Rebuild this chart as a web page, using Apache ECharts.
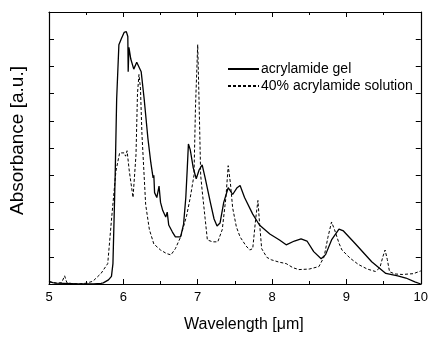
<!DOCTYPE html>
<html>
<head>
<meta charset="utf-8">
<script src="https://cdn.jsdelivr.net/npm/echarts@6/dist/echarts.min.js"></script>
<style>
html,body{margin:0;padding:0;background:#fff;}
#chart{width:431px;height:338px;}
</style>
</head>
<body>
<div id="chart"></div>
<script>
// Wavelength ticks
var xTicks = [5, 6, 7, 8, 9, 10];
var seriesNames = ['acrylamide gel', '40% acrylamide solution'];

// acrylamide gel (solid)
var gelX = [5.00,5.05,5.10,5.20,5.40,5.60,5.70,5.73,5.80,5.84,5.86,5.88,5.89,5.91,5.94,5.97,6.01,6.04,6.06,6.065,6.075,6.10,6.14,6.18,6.20,6.24,6.28,6.33,6.37,6.40,6.41,6.42,6.45,6.48,6.50,6.53,6.57,6.59,6.61,6.63,6.66,6.70,6.77,6.81,6.84,6.86,6.875,6.90,6.94,6.98,7.02,7.06,7.10,7.17,7.22,7.26,7.30,7.35,7.41,7.47,7.53,7.57,7.63,7.74,7.83,7.97,8.10,8.19,8.30,8.39,8.47,8.56,8.66,8.72,8.80,8.90,8.96,9.12,9.34,9.53,9.69,9.80,9.92,10.00];
var gelY = [0.10,0.05,0.03,0.02,0.00,0.00,0.02,0.04,0.15,0.28,0.75,2.90,4.00,6.80,8.80,9.00,9.25,9.28,9.10,7.80,8.70,8.27,7.90,8.15,8.15,7.80,6.80,5.36,4.45,3.90,4.00,3.36,3.18,3.60,3.00,2.70,2.46,2.64,2.17,2.24,1.91,1.73,1.73,2.20,3.18,4.27,5.15,4.93,4.27,3.87,4.20,4.38,3.90,3.00,2.39,2.13,2.24,3.00,3.54,3.29,3.54,3.62,3.18,2.57,2.17,1.84,1.62,1.44,1.58,1.66,1.58,1.19,0.93,1.08,1.62,2.02,1.95,1.48,0.82,0.39,0.30,0.22,0.08,0.00];

// 40% acrylamide solution (dashed)
var solX = [5.00,5.05,5.10,5.17,5.21,5.24,5.30,5.40,5.50,5.59,5.70,5.79,5.84,5.90,5.95,6.01,6.03,6.05,6.08,6.13,6.17,6.19,6.21,6.23,6.25,6.30,6.35,6.41,6.50,6.58,6.64,6.70,6.77,6.85,6.90,6.95,6.97,7.00,7.02,7.04,7.06,7.10,7.13,7.20,7.27,7.33,7.38,7.41,7.44,7.47,7.52,7.57,7.65,7.70,7.74,7.78,7.81,7.83,7.86,7.93,7.99,8.10,8.19,8.28,8.36,8.50,8.63,8.70,8.75,8.80,8.84,8.90,8.94,9.05,9.16,9.28,9.39,9.45,9.49,9.52,9.55,9.58,9.65,9.75,9.90,10.00];
var solY = [0.08,0.05,0.03,0.05,0.30,0.05,0.02,0.00,0.03,0.10,0.39,0.75,2.35,4.15,4.82,4.82,4.70,4.90,4.15,3.18,4.75,7.00,7.70,7.20,5.50,2.92,2.00,1.47,1.25,1.12,1.07,1.30,1.73,2.50,3.18,4.00,6.50,8.80,6.50,4.00,3.43,2.40,1.62,1.55,1.55,2.00,3.20,4.35,3.70,2.80,2.10,1.73,1.40,1.25,1.30,2.40,3.07,2.30,1.30,0.98,0.89,0.80,0.75,0.60,0.53,0.55,0.64,1.00,1.70,2.28,2.00,1.50,1.25,0.95,0.72,0.55,0.46,0.60,1.00,1.25,0.90,0.45,0.37,0.35,0.38,0.48];

function pairs(xs, ys){ return xs.map(function(x,i){ return [x, ys[i]]; }); }

var FONT = 'Liberation Sans, Arial, sans-serif';
var chart = echarts.init(document.getElementById('chart'), null, {renderer:'canvas'});
var axisLine = {show:true, onZero:false, lineStyle:{color:'#000', width:1.2}};
chart.setOption({
  animation:false,
  backgroundColor:'#fff',
  grid:{left:47, right:8, top:12, bottom:50, containLabel:false},
  legend:{
    orient:'vertical', left:227, top:62, padding:0,
    itemWidth:31, itemHeight:10, itemGap:3,
    itemStyle:{opacity:0},
    textStyle:{fontFamily:FONT, fontSize:14, color:'#000', padding:[0,0,0,-3]},
    data:seriesNames
  },
  xAxis:[{
    type:'value', min:xTicks[0], max:xTicks[xTicks.length-1], interval:1,
    axisLine:axisLine,
    axisTick:{show:true, inside:true, length:5, lineStyle:{color:'#000', width:1}},
    minorTick:{show:true, splitNumber:2, length:3, lineStyle:{color:'#000', width:1}},
    splitLine:{show:false},
    axisLabel:{fontFamily:FONT, fontSize:13, color:'#000', margin:7},
    name:'Wavelength [μm]', nameLocation:'middle', nameGap:33,
    nameTextStyle:{fontFamily:FONT, fontSize:16, color:'#000', padding:[0,0,0,18]}
  },{
    type:'value', position:'top', min:5, max:10, interval:1,
    axisLine:axisLine,
    axisTick:{show:true, inside:true, length:5, lineStyle:{color:'#000', width:1}},
    minorTick:{show:true, splitNumber:2, length:3, lineStyle:{color:'#000', width:1}},
    splitLine:{show:false}, axisLabel:{show:false}
  }],
  yAxis:[{
    type:'value', min:0, max:10, interval:1,
    axisLine:axisLine,
    axisTick:{show:true, inside:true, length:5, lineStyle:{color:'#000', width:1}},
    splitLine:{show:false}, axisLabel:{show:false},
    name:'Absorbance [a.u.]', nameLocation:'middle', nameGap:22, nameRotate:90,
    nameTextStyle:{fontFamily:FONT, fontSize:19, color:'#000', padding:[0,0,0,15]}
  },{
    type:'value', position:'right', min:0, max:10, interval:1,
    axisLine:axisLine,
    axisTick:{show:true, inside:true, length:5, lineStyle:{color:'#000', width:1}},
    splitLine:{show:false}, axisLabel:{show:false}
  }],
  series:[{
    name:seriesNames[0], type:'line', symbol:'none', smooth:false,
    data:pairs(gelX, gelY),
    lineStyle:{color:'#000', width:1.3, type:'solid'}, itemStyle:{color:'#000'}
  },{
    name:seriesNames[1], type:'line', symbol:'none', smooth:false,
    data:pairs(solX, solY),
    lineStyle:{color:'#000', width:1, type:[3,2]}, itemStyle:{color:'#000'}
  }]
});
</script>
</body>
</html>
